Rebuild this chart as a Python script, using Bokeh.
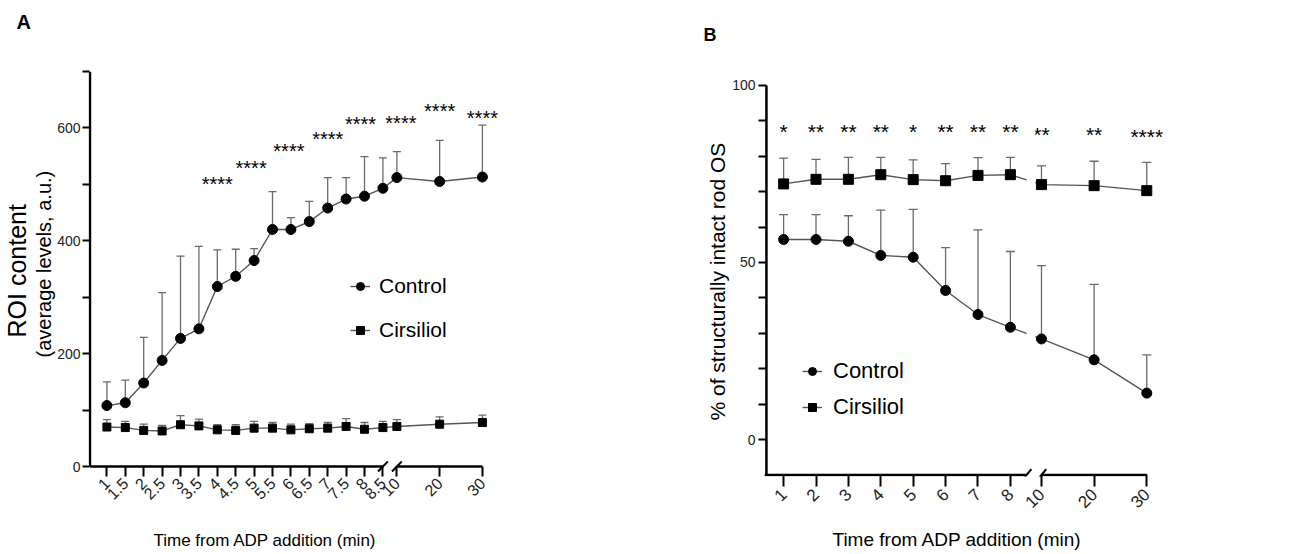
import math
from bokeh.plotting import figure
from bokeh.layouts import row
from bokeh.models import FixedTicker, Legend, LegendItem, BoxAnnotation, Range1d, Title
from bokeh.embed import file_html
from bokeh.resources import INLINE
from bokeh.core.properties import value

# ---------------- Panel A data ----------------
a_time = [1, 1.5, 2, 2.5, 3, 3.5, 4, 4.5, 5, 5.5, 6, 6.5, 7, 7.5, 8, 8.5, 10, 20, 30]
a_tick_labels = ["1", "1.5", "2", "2.5", "3", "3.5", "4", "4.5", "5", "5.5", "6", "6.5",
                 "7", "7.5", "8", "8.5", "10", "20", "30"]
a_control_mean = [108, 113, 148, 188, 227, 244, 319, 337, 365, 420, 420, 434, 458, 474, 479, 493, 512, 505, 513]
a_control_sd = [42, 40, 81, 120, 146, 146, 65, 48, 21, 67, 21, 36, 54, 38, 70, 54, 46, 73, 92]
a_cirsiliol_mean = [70, 69, 64, 63, 74, 72, 65, 64, 68, 68, 65, 67, 68, 71, 66, 69, 71, 75, 78]
a_cirsiliol_sd = [13, 11, 11, 10, 16, 12, 9, 10, 12, 10, 10, 9, 10, 14, 12, 11, 12, 13, 13]
a_sig_time = [4, 5, 6, 7, 8, 10, 20, 30]
a_sig_text = ["****", "****", "****", "****", "****", "****", "****", "****"]
a_sig_level = [503, 530, 561, 583, 609, 611, 632, 620]
a_y_ticks = [0, 200, 400, 600]
a_y_minor = [100, 300, 500, 700]

# ---------------- Panel B data ----------------
b_time = [1, 2, 3, 4, 5, 6, 7, 8, 10, 20, 30]
b_tick_labels = ["1", "2", "3", "4", "5", "6", "7", "8", "10", "20", "30"]
b_control_mean = [56.5, 56.5, 56.0, 52.0, 51.5, 42.1, 35.3, 31.7, 28.4, 22.5, 13.1]
b_control_sd = [7.0, 7.0, 7.2, 12.8, 13.5, 12.1, 23.9, 21.4, 20.7, 21.3, 10.8]
b_cirsiliol_mean = [72.2, 73.5, 73.5, 74.8, 73.4, 73.1, 74.6, 74.8, 72.0, 71.7, 70.3]
b_cirsiliol_sd = [7.3, 5.6, 6.2, 4.9, 5.6, 4.8, 5.0, 4.9, 5.3, 6.9, 8.0]
b_sig_text = ["*", "**", "**", "**", "*", "**", "**", "**", "**", "**", "****"]
b_sig_level = [87.6, 87.6, 87.6, 87.6, 87.6, 87.6, 87.6, 87.6, 86.7, 86.7, 86.2]
b_y_ticks = [0, 50, 100]
b_y_minor = [10, 20, 30, 40, 60, 70, 80, 90]

FONT = "Liberation Sans"
LINE = "#555555"
ERR = "#6a6a6a"
TXT = "#222222"

# small horizontal nudges (px) of the significance marks in panel A
A_SIG_NUDGE = [0, -3, -2, 0, -4, 4, 0, 0]


# broken time axes: linear segment up to 8.5 min, compressed segment from 10 min
def pos_a(t):
    return round((t - 1) * 2, 4) if t <= 8.5 else round(15.76 + (t - 10) * 0.2324, 4)


def pos_b(t):
    return round(t, 4) if t <= 8.5 else round(8.96 + (t - 10) * 0.1625, 4)


def base_fig(width, height, xr, yr, borders):
    l, r, t, b = borders
    p = figure(width=width, height=height, x_range=Range1d(*xr), y_range=Range1d(*yr),
               output_backend="svg", toolbar_location=None,
               min_border_left=l, min_border_right=r, min_border_top=t, min_border_bottom=b)
    p.grid.visible = False
    p.outline_line_color = None
    p.background_fill_color = "white"
    p.border_fill_color = "white"
    for ax in (p.xaxis[0], p.yaxis[0]):
        ax.axis_line_color = None
        ax.major_tick_line_color = "black"
        ax.major_tick_line_width = 2
        ax.minor_tick_line_color = "black"
        ax.minor_tick_line_width = 2
        ax.major_label_text_font = FONT
        ax.major_label_text_color = TXT
    return p


def draw_series(p, x, m, sd, marker, size, cap):
    top = [mi + si for mi, si in zip(m, sd)]
    p.segment(x0=x, y0=m, x1=x, y1=top, line_color=ERR, line_width=1.3)
    p.scatter(x=x, y=top, marker="dash", size=cap, line_color=ERR, line_width=1.3)
    ln = p.line(x=x, y=m, line_color=LINE, line_width=1.4)
    pts = p.scatter(x=x, y=m, marker=marker, size=size, fill_color="black", line_color="black")
    return ln, pts


def add_title(p, text, side, size, align="center", offset=0, standoff=0, valign="bottom", bold=False):
    p.add_layout(Title(text=text, align=align, offset=offset, standoff=standoff,
                       vertical_align=valign,
                       text_font=FONT, text_font_size=f"{size}px", text_color="black",
                       text_font_style="bold" if bold else "normal"), side)


def add_spacer(p, side, standoff):
    p.add_layout(Title(text=" ", text_font_size="1px", standoff=standoff), side)


def make_legend(items, loc, spacing, standoff, size):
    return Legend(items=items, location=loc, padding=0, margin=0, spacing=spacing,
                  glyph_width=20, glyph_height=26, label_height=26, label_standoff=standoff,
                  label_text_font=FONT, label_text_font_size=f"{size}px", label_text_color="black",
                  border_line_color=None, background_fill_alpha=0)


# ================= Panel A =================
ax_pos = [pos_a(t) for t in a_time]
pA = base_fig(650, 554, (-1.0, 21.5), (-17.7, 700), (86, 148, 71, 78))
pA.xaxis[0].ticker = FixedTicker(ticks=ax_pos, minor_ticks=[])
pA.xaxis[0].major_label_overrides = {x: s for x, s in zip(ax_pos, a_tick_labels)}
pA.xaxis[0].major_label_orientation = math.pi / 4
pA.xaxis[0].major_tick_out = 0
pA.xaxis[0].major_tick_in = 10
pA.xaxis[0].major_label_standoff = 4
pA.xaxis[0].major_label_text_font_size = "16px"
pA.yaxis[0].ticker = FixedTicker(ticks=a_y_ticks, minor_ticks=a_y_minor)
pA.yaxis[0].major_tick_out = 6
pA.yaxis[0].major_tick_in = 1
pA.yaxis[0].minor_tick_out = 6
pA.yaxis[0].minor_tick_in = 1
pA.yaxis[0].major_label_standoff = 2
pA.yaxis[0].major_label_text_font_size = "14px"

# axis lines with break
pA.segment(x0=[-0.92, -0.92, pos_a(10)], y0=[0, 0, 0], x1=[-0.92, pos_a(8.5), pos_a(30)],
           y1=[700, 0, 0], line_color="black", line_width=2.5)
pA.scatter(x=[pos_a(8.5), pos_a(10)], y=[0, 0], marker="dash", size=14, angle=0.8,
           line_color="black", line_width=2)

a_c_line, a_c_pts = draw_series(pA, ax_pos, a_control_mean, a_control_sd, "circle", 10, 8)
a_s_line, a_s_pts = draw_series(pA, ax_pos, a_cirsiliol_mean, a_cirsiliol_sd, "square", 8, 8)

pA.text(x=[pos_a(t) for t in a_sig_time], y=a_sig_level, text=a_sig_text,
        x_offset=A_SIG_NUDGE, text_align="center", text_baseline="alphabetic", y_offset=1,
        text_font=value(FONT), text_font_size="20px", text_color="black")

pA.add_layout(make_legend([LegendItem(label="Control", renderers=[a_c_line, a_c_pts]),
                           LegendItem(label="Cirsiliol", renderers=[a_s_line, a_s_pts])],
                          (262, 133), 18, 9, 21))

add_spacer(pA, "above", 34)
add_title(pA, "A", "above", 20, align="left", offset=-72, valign="top", bold=True)
add_title(pA, "(average levels, a.u.)", "left", 20, align="left", offset=119)
add_title(pA, "ROI  content", "left", 25, align="left", offset=139)
add_spacer(pA, "below", 20)
add_title(pA, "Time from ADP addition (min)", "below", 17, align="left", offset=65, valign="top")

# ================= Panel B =================
bx_pos = [pos_b(t) for t in b_time]
pB = base_fig(649, 554, (0.41, 12.85), (-10.45, 103.95), (114, 132, 71, 78))
pB.xaxis[0].ticker = FixedTicker(ticks=bx_pos, minor_ticks=[])
pB.xaxis[0].major_label_overrides = {x: s for x, s in zip(bx_pos, b_tick_labels)}
pB.xaxis[0].major_label_orientation = math.pi / 4
pB.xaxis[0].major_tick_out = 10
pB.xaxis[0].major_tick_in = 2
pB.xaxis[0].major_label_standoff = 5
pB.xaxis[0].major_label_text_font_size = "17px"
pB.yaxis[0].ticker = FixedTicker(ticks=b_y_ticks, minor_ticks=b_y_minor)
pB.yaxis[0].major_tick_out = 6
pB.yaxis[0].major_tick_in = 2
pB.yaxis[0].minor_tick_out = 6
pB.yaxis[0].minor_tick_in = 2
pB.yaxis[0].major_label_standoff = 3
pB.yaxis[0].major_label_text_font_size = "14px"

bc_line, bc_pts = draw_series(pB, bx_pos, b_control_mean, b_control_sd, "circle", 10, 9)
bs_line, bs_pts = draw_series(pB, bx_pos, b_cirsiliol_mean, b_cirsiliol_sd, "square", 10, 9)

# gap in the data lines at the axis break
pB.add_layout(BoxAnnotation(left=pos_b(8.5), right=pos_b(10) - 0.19, bottom=-5, top=95,
                            fill_color="white", fill_alpha=1, line_color=None))

pB.segment(x0=[0.47, 0.41, pos_b(10)], y0=[-10, -10, -10], x1=[0.47, pos_b(8.5), pos_b(30)],
           y1=[100, -10, -10], line_color="black", line_width=2.5)
pB.scatter(x=[pos_b(8.5), pos_b(10)], y=[-10, -10], marker="dash", size=15, angle=0.88,
           line_color="black", line_width=2)

pB.text(x=bx_pos, y=b_sig_level, text=b_sig_text,
        text_align="center", text_baseline="alphabetic", y_offset=2,
        text_font=value(FONT), text_font_size="21px", text_color="black")

pB.add_layout(make_legend([LegendItem(label="Control", renderers=[bc_line, bc_pts]),
                           LegendItem(label="Cirsiliol", renderers=[bs_line, bs_pts])],
                          (38, 56), 10, 11, 22))

add_spacer(pB, "above", 22)
add_title(pB, "B", "above", 18, align="left", offset=-61, valign="top", bold=True)
add_title(pB, "% of structurally intact rod OS", "left", 21, align="left", offset=56, standoff=2)
add_spacer(pB, "below", 9)
add_title(pB, "Time from ADP addition (min)", "below", 19, align="left", offset=68, valign="top")

layout = row(pA, pB)
open("out.html", "w").write(file_html(layout, INLINE))
